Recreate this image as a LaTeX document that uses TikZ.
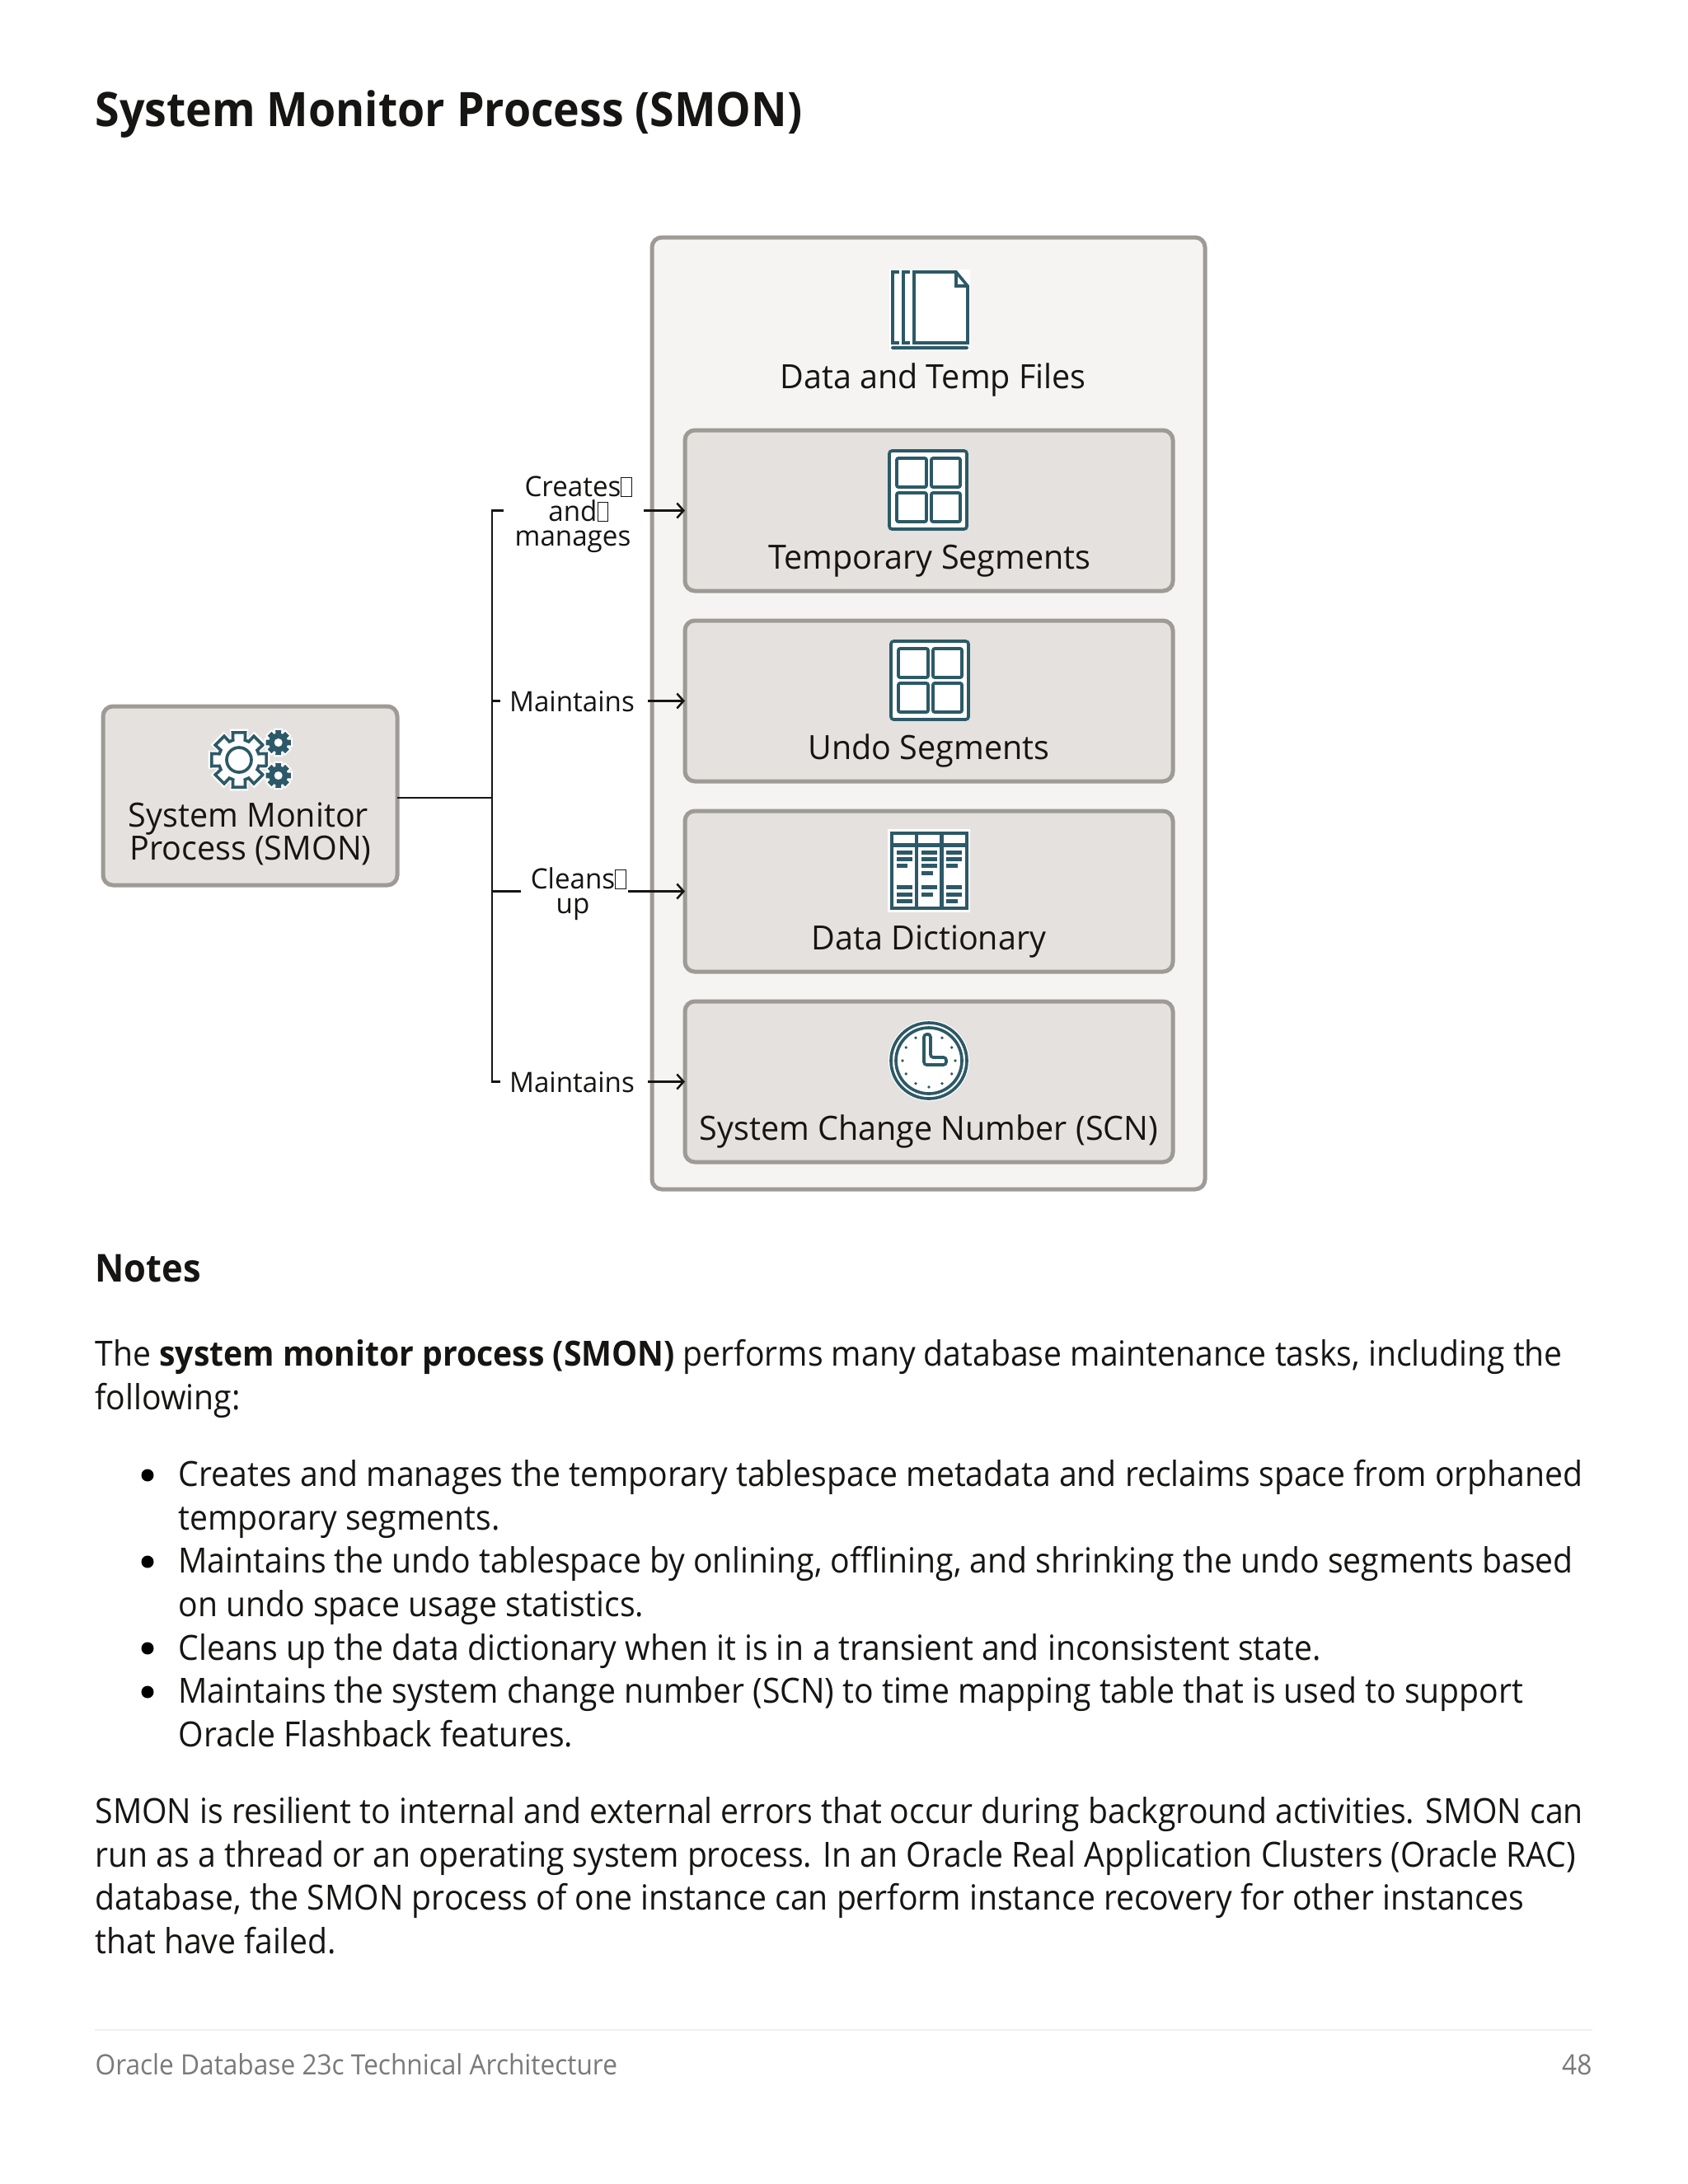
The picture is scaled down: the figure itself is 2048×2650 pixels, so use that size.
\documentclass[tikz,border=0pt]{standalone}
\usepackage{fontspec}
\setmainfont{Open Sans}[FakeStretch=0.93]
\newfontfamily\tilefont{Open Sans}[FakeStretch=0.975]
\usepackage{xcolor}
\usepackage{tikz}
\usetikzlibrary{arrows.meta, positioning, calc}
\definecolor{pagetext}{RGB}{22, 21, 19}
\definecolor{footgray}{RGB}{122, 122, 122}
\definecolor{footrule}{RGB}{240, 240, 240}
\definecolor{boxedge}{RGB}{158, 154, 149}
\definecolor{outerbg}{RGB}{245, 244, 242}
\definecolor{innerbg}{RGB}{228, 225, 222}
\definecolor{iconteal}{RGB}{44, 89, 103}
\newcommand{\missbox}{\rlap{\fboxsep=0pt\fboxrule=0.25pt\fbox{\rule{0pt}{6.6pt}\hspace{3.6pt}}}}
\newcommand{\gearpath}[4]{%
  (#1,#2) ++(-17:#4) \foreach \a in {0,45,...,315} {
    -- ($(#1,#2)+(\a-17:#4)$) -- ($(#1,#2)+(\a-13:#3)$)
    -- ($(#1,#2)+(\a+13:#3)$) -- ($(#1,#2)+(\a+17:#4)$)} -- cycle}
\newcommand{\gridicon}[2]{%
  \draw[iconline, fill=white, rounded corners=1pt] (#1,#2) rectangle ++(94,95);
  \draw[iconline, rounded corners=0.6pt] (#1+9,#2+9) rectangle ++(36,35);
  \draw[iconline, rounded corners=0.6pt] (#1+51,#2+9) rectangle ++(35,35);
  \draw[iconline, rounded corners=0.6pt] (#1+9,#2+51) rectangle ++(36,35);
  \draw[iconline, rounded corners=0.6pt] (#1+51,#2+51) rectangle ++(35,35);
}

\begin{document}
\begin{tikzpicture}[
  x=0.3pt, y=-0.3pt,
  panel/.style={draw=boxedge, fill=outerbg, rounded corners=3.6pt, line width=1.5pt,
                minimum width=671*0.3pt, minimum height=1155*0.3pt, inner sep=0pt, outer sep=0pt},
  tile/.style={draw=boxedge, fill=innerbg, rounded corners=3.6pt, line width=1.5pt,
               minimum width=592*0.3pt, minimum height=195*0.3pt, inner sep=0pt, outer sep=0pt},
  tilelabel/.style={anchor=base, inner sep=0pt, text=pagetext,
                    font=\tilefont\fontsize{12.15}{12}\selectfont},
  linklabel/.style={anchor=base, inner sep=0pt, align=center, text=pagetext,
                    font=\tilefont\fontsize{10.2}{9}\selectfont},
  bodytext/.style={anchor=north west, inner sep=0pt, align=left, text=pagetext,
                   font=\fontsize{12.62}{15.76}\selectfont},
  listdot/.style={circle, fill=black, inner sep=0pt, minimum size=4.5pt},
  iconline/.style={draw=iconteal, line width=1.1pt},
  link/.style={draw=pagetext, line width=0.75pt},
  linkarrow/.style={link, -{Straight Barb[length=2.4pt, width=5.4pt]}}
]
  \useasboundingbox (0,0) rectangle (2048,2650);
  \fill[white] (0,0) rectangle (2048,2650);

  \node[anchor=base west, inner sep=0pt, text=pagetext, font=\fontsize{17.3}{20}\selectfont\bfseries] (title) at (115,153)
    {System Monitor Process (SMON)};

  % boxes
  \node[panel] (files) at (1126.5,865.5) {};
  \node[tile, minimum width=357*0.3pt, minimum height=217*0.3pt] (smon) at (303.5,965.5) {};
  \node[tile] (tempseg) at (1127,619.5) {};
  \node[tile] (undoseg) at (1127,850.5) {};
  \node[tile] (datadict) at (1127,1081.5) {};
  \node[tile] (scn) at (1127,1312.5) {};

  % icons
  \fill[white] (1079,327) rectangle (1177,426);
  \draw[iconline, fill=white] (1091,330) -| (1083,416) -- (1091,416);
  \draw[iconline, fill=white] (1104,330) -| (1096,416) -- (1104,416);
  \draw[iconline, fill=white] (1109,330) -- (1160,330) -- (1174,347) -- (1174,416) -- (1109,416) -- cycle;
  \draw[iconline] (1160,330) |- (1174,347);
  \fill[iconteal, rounded corners=0.5pt] (1081,420) rectangle (1175,424);

  \gridicon{1079}{547}
  \gridicon{1081}{778}

  \fill[white] (1077,1006) rectangle (1177,1107);
  \fill[iconteal] (1080,1009) rectangle (1175,1104);
  \foreach \xa/\xb in {1084/1110, 1114/1140, 1145/1171} {
    \fill[white] (\xa,1013) rectangle (\xb,1023);
    \fill[white] (\xa,1028) rectangle (\xb,1100);
  }
  \foreach \xa/\xb/\ya in {1088/1107/1032, 1088/1107/1040, 1088/1101/1048, 1088/1107/1074, 1088/1107/1083, 1088/1107/1091,
                           1118/1137/1032, 1118/1137/1040, 1118/1137/1048, 1118/1132/1057, 1118/1137/1074, 1118/1132/1083,
                           1148/1167/1032, 1148/1167/1040, 1148/1162/1048, 1148/1167/1074, 1148/1167/1083, 1148/1162/1091}
    \fill[iconteal] (\xa,\ya) rectangle (\xb,\ya+5);

  \fill[white] (1127,1287) circle (49);
  \draw[iconline] (1127,1287) circle (46);
  \draw[iconline] (1127,1287) circle (40);
  \foreach \a in {0,30,...,330}
    \fill[iconteal] ($(1127,1287)+(\a:32)$) circle (1.9);
  \draw[iconline, fill=white, rounded corners=1pt] (1121,1255) -- (1129,1255) -- (1129,1283) -- (1148,1283) -- (1148,1292) -- (1121,1292) -- cycle;

  \draw[white, line width=2pt, fill=white] \gearpath{290}{922}{35}{26};
  \draw[iconline, fill=white] \gearpath{290}{922}{34}{25};
  \draw[iconline] (290,922) circle (15);
  \draw[white, line width=1.2pt, fill=white] \gearpath{337.7}{901}{15.5}{11.5};
  \fill[iconteal] \gearpath{337.7}{901}{15.5}{11.5};
  \fill[white] (337.7,901) circle (5);
  \draw[white, line width=1.2pt, fill=white] \gearpath{337.7}{941}{15.5}{11.5};
  \fill[iconteal] \gearpath{337.7}{941}{15.5}{11.5};
  \fill[white] (337.7,941) circle (5);

  % box labels
  \node[tilelabel] (smontext) at (301.5,1003.5) {System Monitor};
  \node[tilelabel] (smontext2) at (304,1043.5) {Process (SMON)};
  \node[tilelabel] (filestext) at (1132,471.5) {Data and Temp Files};
  \node[tilelabel] (tempsegtext) at (1128,690.5) {Temporary Segments};
  \node[tilelabel] (undosegtext) at (1127,921.5) {Undo Segments};
  \node[tilelabel] (datadicttext) at (1127,1152.5) {Data Dictionary};
  \node[tilelabel] (scntext) at (1127,1383.5) {System Change Number (SCN)};

  % connector
  \coordinate (trunkmid) at (597,968);
  \coordinate (trunktop) at (597,619.5);
  \coordinate (trunkund) at (597,850.5);
  \coordinate (trunkcln) at (597,1081.5);
  \coordinate (trunkbot) at (597,1312.5);
  \coordinate (stubcre) at (611,619.5);
  \coordinate (stubund) at (607,850.5);
  \coordinate (stubcln) at (632,1081.5);
  \coordinate (stubscn) at (607,1312.5);
  \coordinate (outcre) at (781,619.5);
  \coordinate (outund) at (786,850.5);
  \coordinate (outcln) at (762,1081.5);
  \coordinate (outscn) at (786,1312.5);

  \draw[link] (trunkmid -| smon.east) -- (trunkmid);
  \draw[link] (stubcre) -- (trunktop) -- (trunkbot) -- (stubscn);
  \draw[link] (trunkund) -- (stubund);
  \draw[link] (trunkcln) -- (stubcln);
  \draw[linkarrow] (outcre) -- (tempseg.west);
  \draw[linkarrow] (outund) -- (undoseg.west);
  \draw[linkarrow] (outcln) -- (datadict.west);
  \draw[linkarrow] (outscn) -- (scn.west);

  \node[linklabel] (cretext) at (695,662) {Creates\missbox\\and\missbox\\manages};
  \node[linklabel] (undtext) at (694,863) {Maintains};
  \node[linklabel] (clntext) at (695,1108) {Cleans\missbox\\up};
  \node[linklabel] (scnlink) at (694,1325) {Maintains};

  % notes
  \node[anchor=base west, inner sep=0pt, text=pagetext, font=\fontsize{14}{16}\selectfont\bfseries] (notes) at (115,1555) {Notes};
  \node[bodytext] (intro) at (115,1625)
    {The \textbf{system monitor process (SMON)} performs many database maintenance tasks, including the\\
     following:};
  \node[bodytext] (items) at (216,1771)
    {Creates and manages the temporary tablespace metadata and reclaims space from orphaned\\
     temporary segments.\\
     Maintains the undo tablespace by onlining, offlining, and shrinking the undo segments based\\
     on undo space usage statistics.\\
     Cleans up the data dictionary when it is in a transient and inconsistent state.\\
     Maintains the system change number (SCN) to time mapping table that is used to support\\
     Oracle Flashback features.};
  \node[listdot] (dota) at (179,1790) {};
  \node[listdot] (dotb) at (179,1895) {};
  \node[listdot] (dotc) at (179,2000) {};
  \node[listdot] (dotd) at (179,2053) {};
  \node[bodytext] (outro) at (115,2180)
    {SMON is resilient to internal and external errors that occur during background activities. SMON can\\
     run as a thread or an operating system process. In an Oracle Real Application Clusters (Oracle RAC)\\
     database, the SMON process of one instance can perform instance recovery for other instances\\
     that have failed.};

  % footer
  \coordinate (ruleleft) at (115,2463);
  \coordinate (ruleright) at (1932,2463);
  \draw[footrule, line width=0.5pt] (ruleleft) -- (ruleright);
  \node[anchor=base west, inner sep=0pt, text=footgray, font=\fontsize{10.2}{12}\selectfont] (foot) at (115,2517)
    {Oracle Database 23c Technical Architecture};
  \node[anchor=base east, inner sep=0pt, text=footgray, font=\fontsize{10.2}{12}\selectfont] (pageno) at (1932,2517) {48};
\end{tikzpicture}
\end{document}
